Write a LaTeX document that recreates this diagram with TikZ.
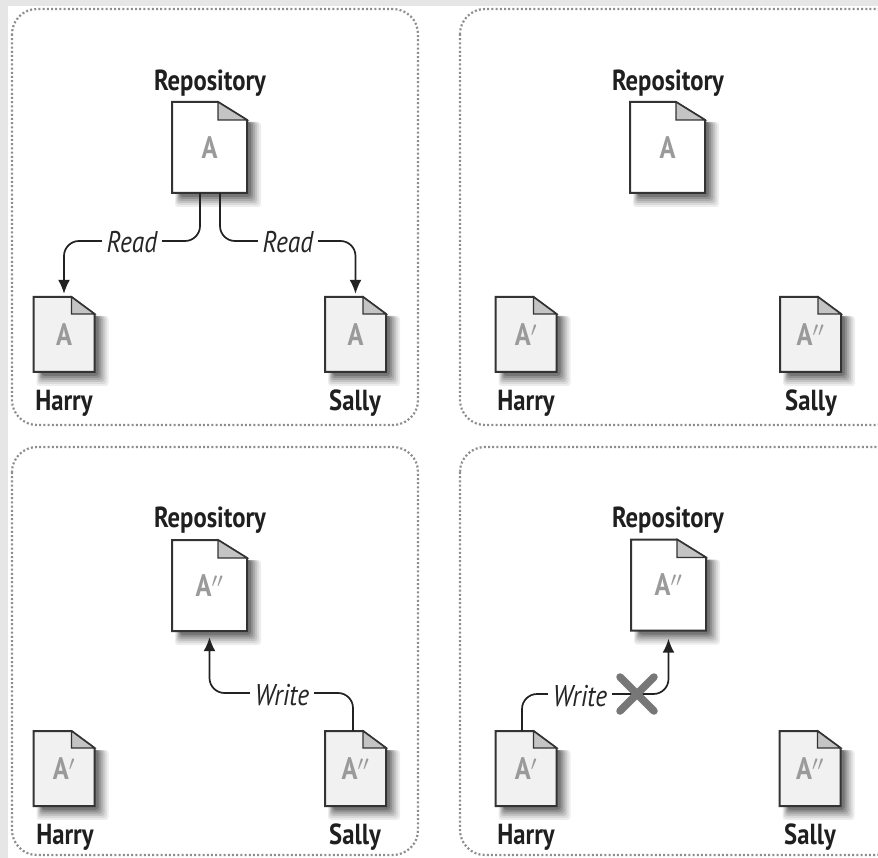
\documentclass[tikz,border=0pt]{standalone}
\usepackage{fontspec}
\setmainfont[FakeStretch=0.85]{PT Sans}
\usetikzlibrary{arrows.meta,calc}
\definecolor{framegray}{HTML}{8E8E8E}
\definecolor{bandgray}{HTML}{E6E6E6}
\definecolor{lettergray}{HTML}{9A9A9A}
\definecolor{foldgray}{HTML}{C4C4C4}
\definecolor{paleDoc}{HTML}{F1F1F1}
\definecolor{crossgray}{HTML}{777777}
\definecolor{linegray}{HTML}{222222}
\tikzset{
  panelframe/.style={draw=framegray,line width=2.2pt,dash pattern=on 2pt off 2.2pt,rounded corners=25pt},
  nametext/.style={inner sep=0pt,font=\fontsize{29}{29}\selectfont\bfseries,text=black!88},
  verbtext/.style={fill=white,inner xsep=5pt,inner ysep=3pt,font=\fontsize{30}{30}\selectfont\itshape,text=black!85},
  flow/.style={draw=linegray,line width=1.7pt,rounded corners=15pt},
  flowtip/.style={-{Latex[length=14pt,width=12pt]}},
  docline/.style={draw=black!80,line width=2pt},
  cross/.style={draw=crossgray,line width=7.5pt,line cap=round},
}
% name, cx, cy, w, h, fold width, fold height, fill, text
\newcommand{\docshape}[9]{%
  \foreach \s/\o in {10/.07,8/.08,6/.10,4/.12,2/.15,0/.18}{
    \fill[black,opacity=\o,rounded corners=3pt]
      ({#2-#4/2+8-\s/2},{#3-#5/2+#7+2}) rectangle ({#2+#4/2+4+\s},{#3+#5/2+4+\s});
  }
  \path[docline,fill=#8] ({#2-#4/2},{#3-#5/2}) -- ({#2+#4/2-#6},{#3-#5/2}) -- ({#2+#4/2},{#3-#5/2+#7}) -- ({#2+#4/2},{#3+#5/2}) -- ({#2-#4/2},{#3+#5/2}) -- cycle;
  \path[docline,fill=foldgray,line width=1.4pt] ({#2+#4/2-#6},{#3-#5/2}) -- ({#2+#4/2},{#3-#5/2+#7}) -- ({#2+#4/2-#6},{#3-#5/2+#7}) -- cycle;
  \node[minimum width=#4pt,minimum height=#5pt,inner sep=0pt] (#1) at (#2,#3) {#9};
}
\newcommand{\bigdoc}[4]{\docshape{#1}{#2}{#3}{75}{91}{29}{18}{white}{\fontsize{31}{31}\selectfont\bfseries\color{lettergray}#4}}
\newcommand{\smalldoc}[4]{\docshape{#1}{#2}{#3}{61}{75}{23}{17}{paleDoc}{\fontsize{31}{31}\selectfont\bfseries\color{lettergray}#4}}
\begin{document}
\begin{tikzpicture}[x=1pt,y=-1pt]
\useasboundingbox (0,0) rectangle (878,858);
\clip (0,0) rectangle (878,858);
\fill[bandgray] (0,0) rectangle (878,858);
\fill[white] (8,6) rectangle (878,858);
% frames
\draw[panelframe] (12,9) rectangle (418,425);
\draw[panelframe] (460,9) rectangle (900,425);
\draw[panelframe] (12,447) rectangle (418,855);
\draw[panelframe] (460,447) rectangle (900,855);
% panel 1
\node[nametext] (rn1) at (210,83) {Repository};
\node[nametext] (hn1) at (64,403) {Harry};
\node[nametext] (sn1) at (355,403) {Sally};
\bigdoc{r1}{209.5}{147.5}{A}
\smalldoc{h1}{64}{334.5}{A}
\smalldoc{s1}{355.5}{334.5}{A}
\coordinate (c1l) at (64,241);
\coordinate (c1r) at (355.5,241);
\draw[flow,flowtip] ($(r1.south)+(-9.5,0)$) |- (c1l) -- ($(h1.north)+(0,-3)$);
\draw[flow,flowtip] ($(r1.south)+(10.5,0)$) |- (c1r) -- ($(s1.north)+(0,-3)$);
\node[verbtext] (read1) at (132,242) {Read};
\node[verbtext] (read2) at (288,242) {Read};
% panel 2
\node[nametext] (rn2) at (668,83) {Repository};
\node[nametext] (hn2) at (526,403) {Harry};
\node[nametext] (sn2) at (811,403) {Sally};
\bigdoc{r2}{667.5}{147.5}{A}
\smalldoc{h2}{526}{334.5}{A$'$}
\smalldoc{s2}{810.5}{334.5}{A$''$}
% panel 3
\node[nametext] (rn3) at (210,520) {Repository};
\node[nametext] (hn3) at (65,837) {Harry};
\node[nametext] (sn3) at (355,837) {Sally};
\bigdoc{r3}{209.5}{585.5}{A$''$}
\smalldoc{h3}{64}{768.5}{A$'$}
\smalldoc{s3}{355.5}{768.5}{A$''$}
\coordinate (c3l) at (209.5,693);
\draw[flow,flowtip] ($(s3.north)+(-2.5,0)$) |- (c3l) -- ($(r3.south)+(0,6)$);
\node[verbtext] (write3) at (282,695) {Write};
% panel 4
\node[nametext] (rn4) at (668,520) {Repository};
\node[nametext] (hn4) at (526,837) {Harry};
\node[nametext] (sn4) at (810,837) {Sally};
\bigdoc{r4}{668.5}{585}{A$''$}
\smalldoc{h4}{526}{768.5}{A$'$}
\smalldoc{s4}{810}{768.5}{A$''$}
\coordinate (c4r) at (668.5,694);
\draw[flow,flowtip] ($(h4.north)+(-4,0)$) |- (c4r) -- ($(r4.south)+(0,8)$);
\node[verbtext] (write4) at (580,696) {Write};
\coordinate (xc) at (637,694);
\draw[cross] ($(xc)+(-17,-17)$) -- ($(xc)+(17,17)$);
\draw[cross] ($(xc)+(17,-17)$) -- ($(xc)+(-17,17)$);
\end{tikzpicture}
\end{document}
